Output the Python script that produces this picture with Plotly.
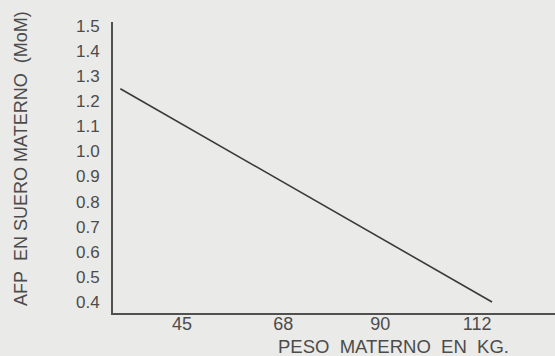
import plotly.graph_objects as go

# Data
peso_kg = [31, 115.4]
afp_mom = [1.25, 0.40]
x_ticks = [45, 68, 90, 112]
y_ticks = [0.4, 0.5, 0.6, 0.7, 0.8, 0.9, 1.0, 1.1, 1.2, 1.3, 1.4, 1.5]
y_tick_labels = [f"{v:.1f}" for v in y_ticks]

W, H = 555, 356
L, R, T, B = 113, 0, 22, 43
pw, ph = W - L - R, H - T - B

def px_x(px):
    return (px - L) / pw

def px_y(py):
    return (H - B - py) / ph

bg = "#eaeae8"
ink = "#4c4c4c"
font = "Liberation Sans, Arial, sans-serif"

fig = go.Figure(go.Scatter(x=peso_kg, y=afp_mom, mode="lines",
                           line=dict(color="#3a3a3a", width=1.6),
                           hoverinfo="skip"))

fig.update_layout(
    width=W, height=H,
    margin=dict(l=L, r=R, t=T, b=B, autoexpand=False),
    paper_bgcolor=bg, plot_bgcolor=bg,
    showlegend=False,
    font=dict(family=font, color=ink),
    xaxis=dict(range=[29.33, 129.7], tickvals=x_ticks,
               ticktext=[str(v) for v in x_ticks], automargin=False,
               showgrid=False, zeroline=False, showline=True,
               linecolor="#505050", linewidth=2, ticks="", ticklen=0,
               tickfont=dict(size=18, color=ink), ticklabelstandoff=-7),
    yaxis=dict(range=[0.356, 1.516], tickvals=y_ticks, ticktext=y_tick_labels,
               automargin=False,
               showgrid=False, zeroline=False, showline=True,
               linecolor="#505050", linewidth=2, ticks="", ticklen=0,
               tickfont=dict(size=17, color=ink), ticklabelstandoff=8),
    annotations=[
        dict(text="PESO&nbsp;&nbsp;MATERNO&nbsp;&nbsp;EN&nbsp;&nbsp;KG.",
             xref="paper", yref="paper", x=px_x(393), y=px_y(346),
             xanchor="center", yanchor="middle", showarrow=False,
             font=dict(size=18.5, color=ink, family=font)),
        dict(text="AFP&nbsp;&nbsp;EN SUERO MATERNO&nbsp;&nbsp;(MoM)",
             xref="paper", yref="paper", x=px_x(21), y=px_y(159),
             xanchor="center", yanchor="middle", showarrow=False,
             textangle=-90,
             font=dict(size=18, color=ink, family=font)),
    ],
)

fig.write_html(
    "out.html",
    config={"displayModeBar": False},
    post_script="document.body.style.margin='0';"
                "document.body.style.background='#eaeae8';",
)
